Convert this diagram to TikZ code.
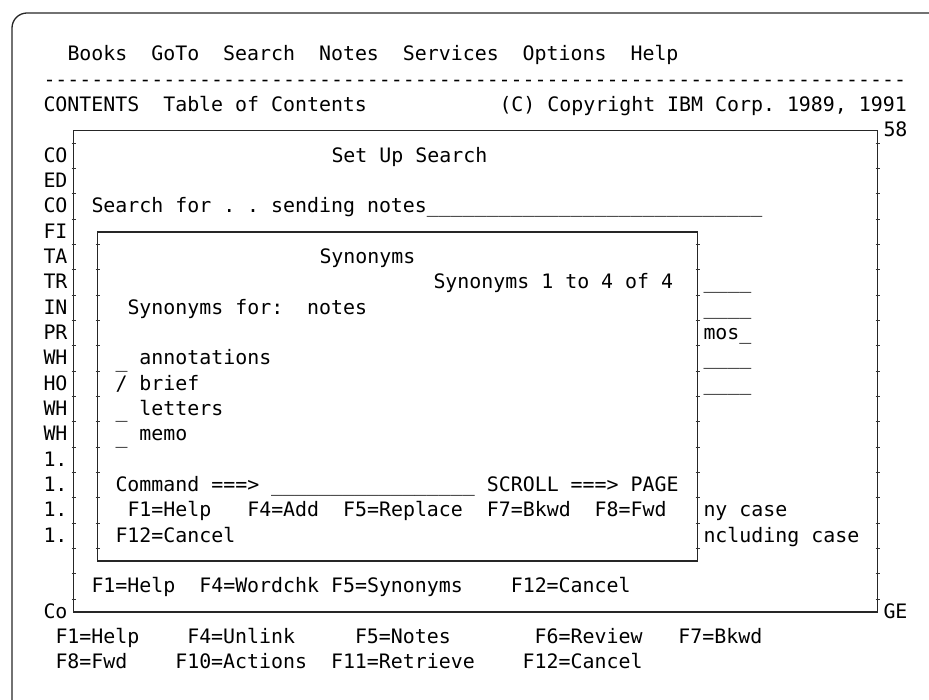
\documentclass[tikz,border=0pt]{standalone}
\usepackage{fontspec}
\newfontfamily\scrfont{DejaVu Sans Mono}
% x: left edge of a character cell; y: baseline of a screen row
\newcommand\cx[1]{43.5+12*(#1)}
\newcommand\ry[1]{61+25.33*(#1)}
\newcommand\scr[4]{\node[scrtext] (#1) at ({\cx{#2}},{\ry{#3}}) {#4};}
\newcommand\us[1]{\foreach \k in {1,...,#1}{\_}}
% selection field of a list entry, sitting a little below the baseline
\newcommand\selfield{\raisebox{-2.2pt}{\_}}
\begin{document}
\begin{tikzpicture}[x=1pt,y=-1pt,
  scrtext/.style={anchor=base west,inner sep=0pt,outer sep=0pt,
    font=\scrfont\fontsize{19.9}{24}\selectfont,text=black},
  boxline/.style={draw=black!85,line width=1.6pt},
  tick/.style={draw=black!80,line width=1.1pt},
  frameline/.style={draw=black!85,line width=1.3pt,rounded corners=15pt}]
\useasboundingbox (0,0) rectangle (929,700);

% page frame corner
\coordinate (fb) at (12,700);
\coordinate (fc) at (12,13);
\coordinate (fr) at (929,13);
\draw[frameline] (fb) -- (fc) -- (fr);

% box corners
\coordinate (outerNW) at (73.5,130.5);
\coordinate (outerSE) at (877.5,611.8);
\coordinate (synNW) at (97.5,231.8);
\coordinate (synSE) at (697.5,561.1);
\draw[boxline] (outerNW) rectangle (outerSE);
\draw[boxline] (synNW) rectangle (synSE);

% row joints on the box sides
\foreach \r in {3,...,21}{
  \draw[tick] ({73.5-2},{54.5+25.33*(\r+0.5)}) -- ++(4,0);
  \draw[tick] ({877.5-2},{54.5+25.33*(\r+0.5)}) -- ++(4,0);
}
\foreach \r in {7,...,19}{
  \draw[tick] ({97.5-2},{54.5+25.33*(\r+0.5)}) -- ++(4,0);
  \draw[tick] ({697.5-2},{54.5+25.33*(\r+0.5)}) -- ++(4,0);
}

% action bar and title line
\scr{menu}{2}{0}{Books~~GoTo~~Search~~Notes~~Services~~Options~~Help}
\scr{rule}{0}{1}{\foreach \k in {1,...,72}{-\kern0pt}}
\scr{title}{0}{2}{CONTENTS~~Table~of~Contents}
\scr{copy}{38}{2}{(C)~Copyright~IBM~Corp.~1989,~1991}
\scr{pg}{70}{3}{58}

% left edge of the underlying contents list
\scr{l4}{0}{4}{CO}
\scr{l5}{0}{5}{ED}
\scr{l6}{0}{6}{CO}
\scr{l7}{0}{7}{FI}
\scr{l8}{0}{8}{TA}
\scr{l9}{0}{9}{TR}
\scr{l10}{0}{10}{IN}
\scr{l11}{0}{11}{PR}
\scr{l12}{0}{12}{WH}
\scr{l13}{0}{13}{HO}
\scr{l14}{0}{14}{WH}
\scr{l15}{0}{15}{WH}
\scr{l16}{0}{16}{1.}
\scr{l17}{0}{17}{1.}
\scr{l18}{0}{18}{1.}
\scr{l19}{0}{19}{1.}
\scr{l22}{0}{22}{Co}
\scr{r22}{70}{22}{GE}

% right edge of the Set Up Search window
\scr{f9}{55}{9}{\us{4}}
\scr{f10}{55}{10}{\us{4}}
\scr{f11}{55}{11}{mos\_}
\scr{f12}{55}{12}{\us{4}}
\scr{f13}{55}{13}{\us{4}}
\scr{f18}{55}{18}{ny~case}
\scr{f19}{55}{19}{ncluding~case}

% Set Up Search window
\scr{sus}{24}{4}{Set~Up~Search}
\scr{sfor}{4}{6}{Search~for~.~.~sending~notes\us{28}}
\scr{skeys}{4}{21}{F1=Help~~F4=Wordchk~F5=Synonyms~~~~F12=Cancel}

% Synonyms window
\scr{syn}{23}{8}{Synonyms}
\scr{cnt}{32.5}{9}{Synonyms~1~to~4~of~4}
\scr{sfr}{7}{10}{Synonyms~for:~~notes}
\scr{s1}{6}{12}{\selfield~annotations}
\scr{s2}{6}{13}{/~brief}
\scr{s3}{6}{14}{\selfield~letters}
\scr{s4}{6}{15}{\selfield~memo}
\scr{cmd}{6}{17}{Command~===>~\us{17}~SCROLL~===>~PAGE}
\scr{k1}{7}{18}{F1=Help~~~F4=Add~~F5=Replace~~F7=Bkwd~~F8=Fwd}
\scr{k2}{6}{19}{F12=Cancel}

% function key area
\scr{fk1}{1}{23}{F1=Help~~~~F4=Unlink~~~~~F5=Notes~~~~~~~F6=Review~~~F7=Bkwd}
\scr{fk2}{1}{24}{F8=Fwd~~~~F10=Actions~~F11=Retrieve~~~~F12=Cancel}
\end{tikzpicture}
\end{document}
